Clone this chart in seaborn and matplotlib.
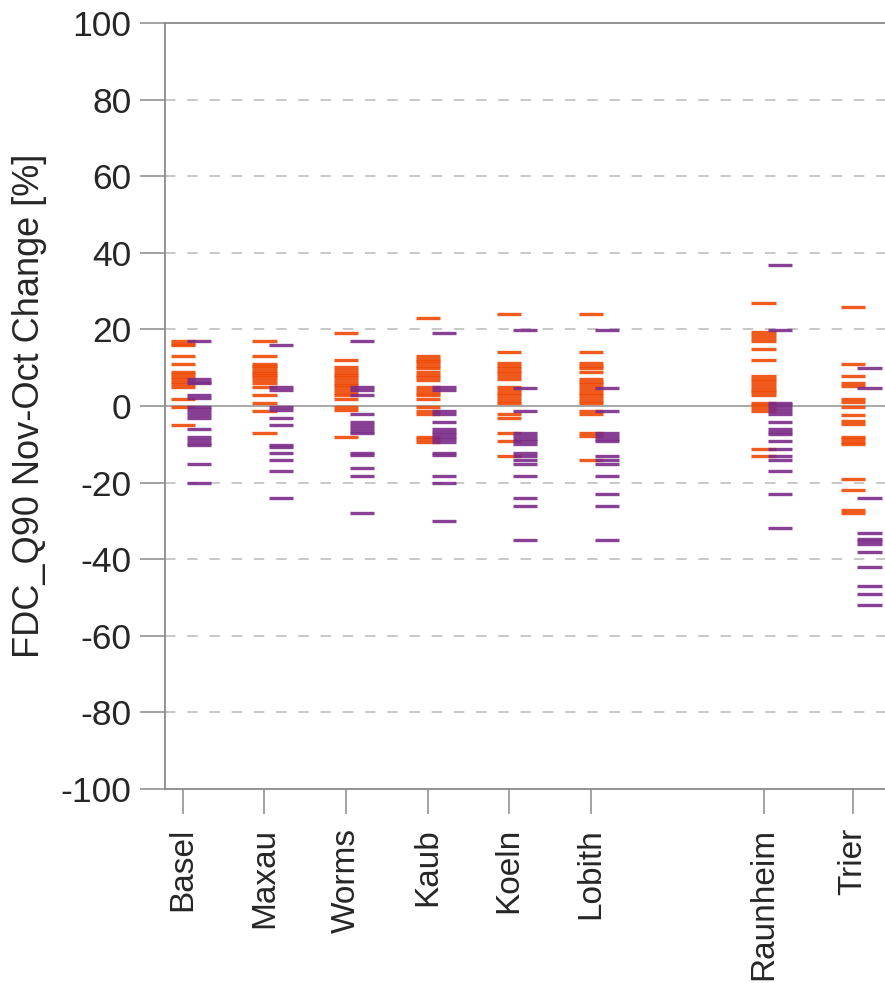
import matplotlib
matplotlib.use("Agg")
import matplotlib.pyplot as plt
import seaborn as sns
import pandas as pd

stations = ["Basel", "Maxau", "Worms", "Kaub", "Koeln", "Lobith", "Raunheim", "Trier"]
station_pos = [0, 1, 2, 3, 4, 5, 7.12, 8.22]

orange_vals = {
    "Basel": [17.0, 16.3, 15.9, 13.0, 11.0, 9.0, 8.3, 7.7, 7.0, 6.3, 5.7, 4.9, 1.9, -0.2, -5.0],
    "Maxau": [17.0, 13.0, 11.0, 10.4, 9.8, 9.2, 8.7, 8.1, 7.5, 6.8, 6.1, 4.9, 2.8, 0.9, -1.2, -7.1],
    "Worms": [19.0, 12.0, 10.1, 9.4, 8.7, 8.1, 7.5, 6.8, 6.1, 5.5, 4.9, 4.2, 3.5, 2.8, 1.9, -0.2, -1.0, -8.0],
    "Kaub": [23.0, 13.0, 12.4, 11.8, 11.1, 10.4, 9.8, 9.0, 8.1, 7.5, 6.8, 4.9, 4.2, 3.5, 2.8, 1.9, -0.2, -1.2, -2.2, -8.0, -8.7, -9.3],
    "Koeln": [23.9, 14.0, 11.1, 10.4, 9.8, 9.2, 8.5, 7.8, 7.1, 4.9, 4.2, 3.5, 2.8, 2.0, 1.3, 0.7, -2.2, -3.1, -7.1, -9.1, -13.0],
    "Lobith": [23.9, 14.0, 11.1, 10.4, 9.8, 8.9, 7.0, 6.3, 5.7, 4.9, 4.2, 3.5, 2.8, 2.0, 1.3, 0.7, -1.2, -2.2, -7.1, -7.8, -14.1],
    "Raunheim": [26.8, 19.2, 18.5, 17.8, 17.1, 14.9, 11.9, 7.8, 7.1, 6.4, 5.7, 5.0, 4.3, 3.6, 2.9, 0.9, 0.2, -0.5, -1.2, -11.1, -13.1],
    "Trier": [25.8, 10.9, 7.8, 5.9, 5.2, 1.9, 1.0, -0.2, -2.3, -4.0, -4.7, -8.0, -8.7, -9.4, -10.0, -19.0, -22.0, -27.2, -28.0],
}

purple_vals = {
    "Basel": [17.0, 7.0, 6.3, 5.9, 2.8, 2.0, -0.2, -0.9, -1.6, -2.3, -3.2, -6.1, -8.2, -8.9, -9.6, -10.3, -15.1, -20.2],
    "Maxau": [15.9, 4.9, 4.2, -0.2, -1.0, -3.2, -5.0, -10.1, -10.8, -12.2, -14.1, -17.1, -24.1],
    "Worms": [17.0, 4.9, 4.2, 2.8, -2.2, -4.2, -5.0, -5.7, -6.4, -7.1, -12.2, -12.9, -16.2, -18.2, -28.0],
    "Kaub": [19.0, 4.9, 4.2, -1.2, -2.2, -4.2, -6.1, -6.7, -7.3, -8.0, -8.7, -9.3, -12.2, -12.9, -18.2, -20.2, -29.9],
    "Koeln": [19.9, 4.8, -1.2, -7.1, -7.8, -8.5, -9.1, -9.9, -12.2, -13.0, -14.1, -15.1, -18.2, -24.1, -26.1, -35.0],
    "Lobith": [19.9, 4.8, -1.2, -7.1, -7.8, -8.5, -9.1, -13.0, -14.1, -15.1, -18.2, -23.0, -26.1, -35.0],
    "Raunheim": [36.7, 19.9, 0.9, 0.2, -0.5, -1.2, -2.2, -4.2, -6.1, -6.8, -7.3, -9.2, -11.1, -13.1, -14.1, -17.1, -23.0, -31.9],
    "Trier": [9.9, 4.8, -24.0, -33.1, -34.6, -35.3, -36.0, -38.1, -42.1, -47.0, -49.1, -52.0],
}

y_ticks = [-100, -80, -60, -40, -20, 0, 20, 40, 60, 80, 100]
y_label = "FDC_Q90 Nov-Oct Change [%]"

ORANGE = "#EF4A06"
PURPLE = "#7B2C88"
GRAY = "#8a8a8a"
TEXT = "#262626"

sns.set_theme(style="white")
plt.rcParams["font.family"] = ["Liberation Sans", "DejaVu Sans"]
plt.rcParams["lines.scale_dashes"] = False

rows = []
pos_map = dict(zip(stations, station_pos))
for series, vals, off in (("A", orange_vals, 0.0), ("B", purple_vals, 0.2)):
    for st in stations:
        for v in vals[st]:
            rows.append({"station": st, "series": series, "x": pos_map[st] + off, "value": v})
df = pd.DataFrame(rows)

fig = plt.figure(figsize=(8.85, 9.83), dpi=100)
ax = fig.add_axes([165 / 885, 1 - 789 / 983, 1 - 165 / 885, (789 - 23) / 983])

for y in y_ticks:
    if y in (-100, 100, 0):
        continue
    ax.axhline(y, color="#c4c4c4", lw=1.3, linestyle=(0, (7.5, 8.5)), zorder=0)
ax.axhline(0, color="#9a9a9a", lw=1.2, zorder=0)

sns.scatterplot(data=df, x="x", y="value", hue="series",
                palette={"A": ORANGE, "B": PURPLE}, marker="_", s=300,
                linewidth=2.4, alpha=0.9, legend=False, ax=ax, zorder=3)

ax.set_xlim(-0.22, 8.61)
ax.set_ylim(-100, 100)
ax.set_yticks(y_ticks)
ax.set_yticklabels([str(t) for t in y_ticks])
ax.set_xticks(station_pos)
ax.set_xticklabels(stations, rotation=90)
ax.set_xlabel("")
ax.set_ylabel(y_label, fontsize=26, color=TEXT, labelpad=10)

ax.tick_params(axis="y", direction="out", length=18, width=1.1, color=GRAY,
               labelsize=25.5, labelcolor=TEXT, pad=6, left=True)
ax.tick_params(axis="x", direction="out", length=18, width=1.1, color=GRAY,
               labelsize=24, labelcolor=TEXT, pad=10, bottom=True)

for side in ("left", "bottom", "top"):
    ax.spines[side].set_visible(True)
    ax.spines[side].set_color(GRAY)
    ax.spines[side].set_linewidth(1.3)
ax.spines["right"].set_visible(False)

fig.savefig("out.png", dpi=100)
